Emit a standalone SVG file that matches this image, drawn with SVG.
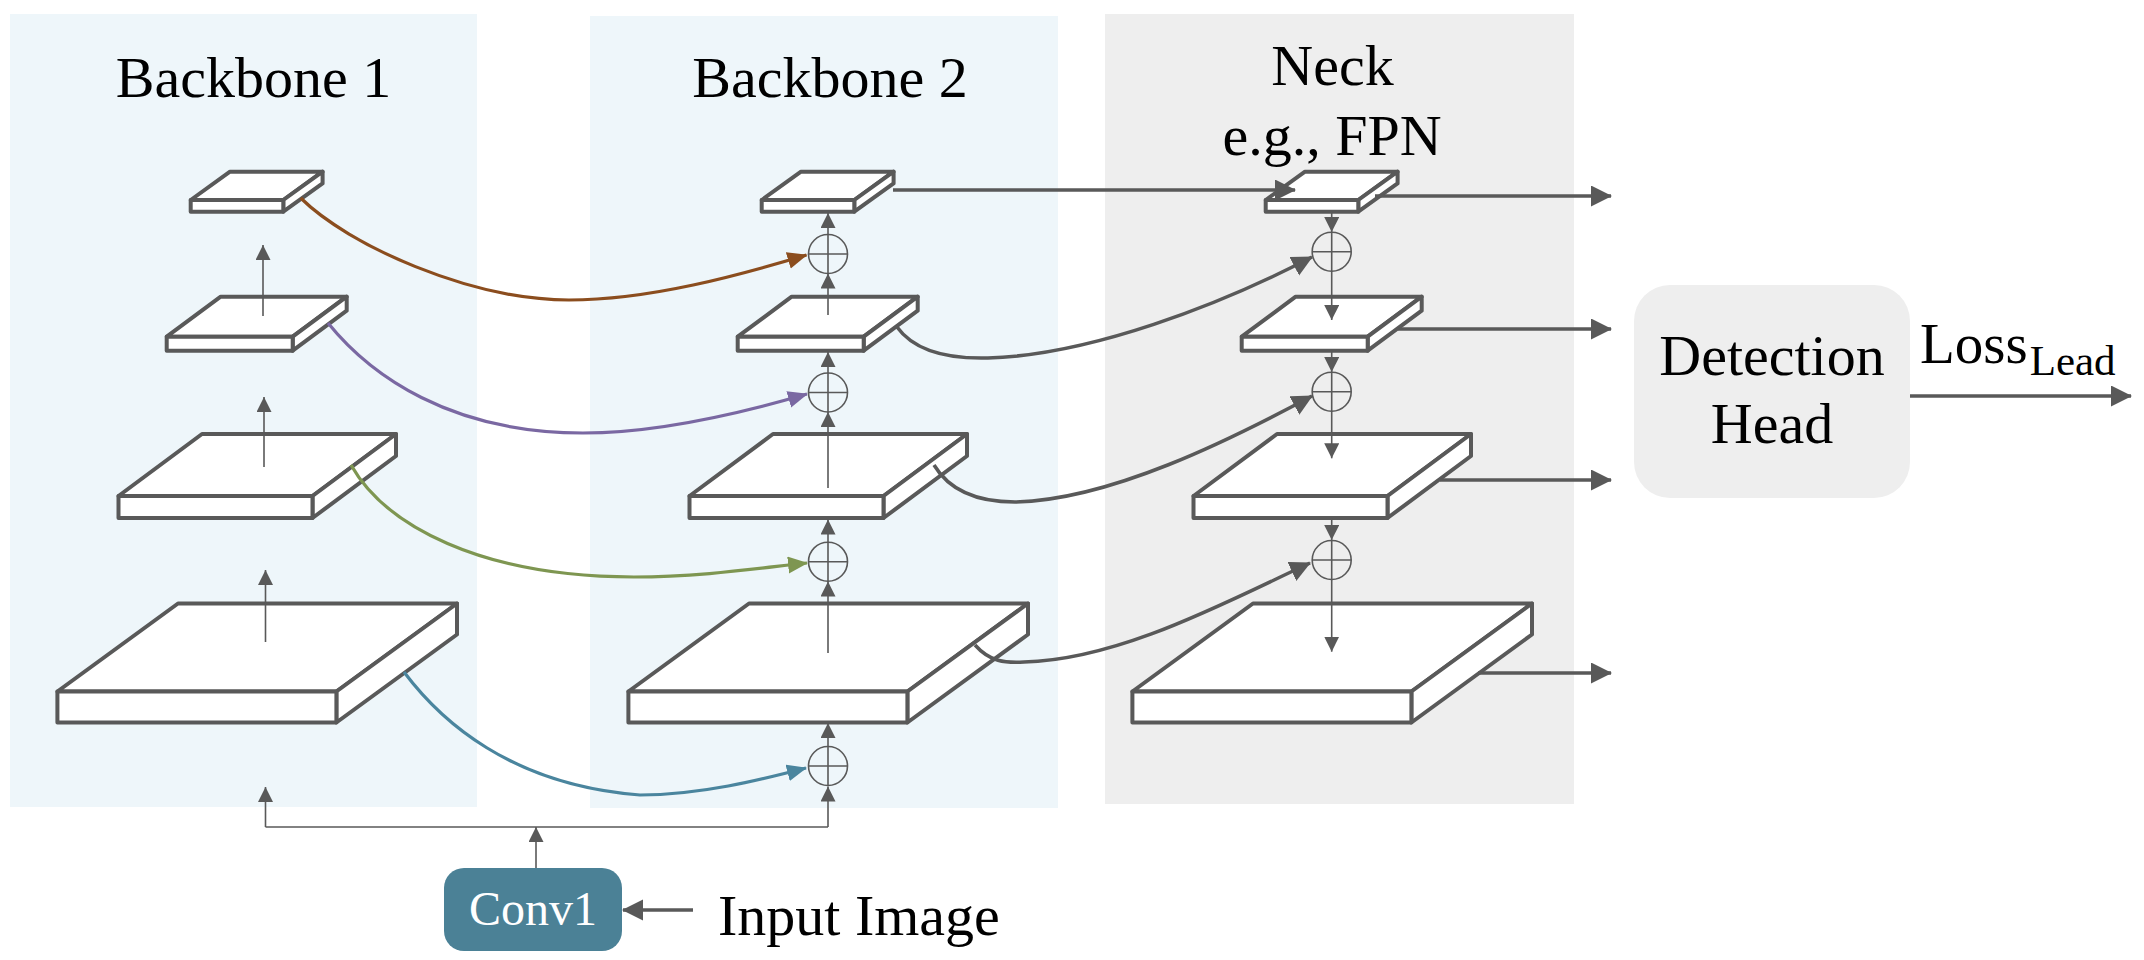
<svg xmlns="http://www.w3.org/2000/svg" width="2144" height="960" viewBox="0 0 2144 960">
<style>
.t{font-family:"Liberation Serif","Times New Roman",serif;fill:#000}
.face{fill:#fff;stroke:#595959;stroke-width:4;stroke-linejoin:round}
.thin{fill:none;stroke:#595959;stroke-width:1.6}
.thick{fill:none;stroke:#595959;stroke-width:3.5}
.sum{fill:none;stroke:#595959;stroke-width:1.6}
.cc{fill:none;stroke-width:3.2}
</style>
<defs>
<marker id="mThin" markerUnits="userSpaceOnUse" markerWidth="16" markerHeight="16" refX="15" refY="7.5" orient="auto"><path d="M0,0 L15,7.5 L0,15 Z" fill="#595959"/></marker>
<marker id="mBig" markerUnits="userSpaceOnUse" markerWidth="22" markerHeight="22" refX="20" refY="10.5" orient="auto"><path d="M0,0 L21,10.5 L0,21 Z" fill="#595959"/></marker>
<marker id="mBrown" markerUnits="userSpaceOnUse" markerWidth="21" markerHeight="18" refX="19" refY="8.5" orient="auto"><path d="M0,0 L20,8.5 L0,17 Z" fill="#8B4D1E"/></marker>
<marker id="mPurple" markerUnits="userSpaceOnUse" markerWidth="21" markerHeight="18" refX="19" refY="8.5" orient="auto"><path d="M0,0 L20,8.5 L0,17 Z" fill="#7A68A2"/></marker>
<marker id="mGreen" markerUnits="userSpaceOnUse" markerWidth="21" markerHeight="18" refX="19" refY="8.5" orient="auto"><path d="M0,0 L20,8.5 L0,17 Z" fill="#7E9651"/></marker>
<marker id="mTeal" markerUnits="userSpaceOnUse" markerWidth="21" markerHeight="18" refX="19" refY="8.5" orient="auto"><path d="M0,0 L20,8.5 L0,17 Z" fill="#4A859E"/></marker>
<g id="slab4">
<polygon class="face" points="190.7,200 230,171.7 322.6,171.7 283.3,200"/>
<polygon class="face" points="283.3,200 322.6,171.7 322.6,183.4 283.3,211.7"/>
<rect class="face" x="190.7" y="200" width="92.6" height="11.7"/>
</g>
<g id="slab3">
<polygon class="face" points="166.7,336.7 220.7,296.7 346.7,296.7 292.7,336.7"/>
<polygon class="face" points="292.7,336.7 346.7,296.7 346.7,310.7 292.7,350.7"/>
<rect class="face" x="166.7" y="336.7" width="126" height="14"/>
</g>
<g id="slab2">
<polygon class="face" points="118.5,496 202,434 396,434 312.5,496"/>
<polygon class="face" points="312.5,496 396,434 396,456 312.5,518"/>
<rect class="face" x="118.5" y="496" width="194" height="22"/>
</g>
<g id="slab1">
<polygon class="face" points="57.4,691.5 178,603.5 457,603.5 336.4,691.5"/>
<polygon class="face" points="336.4,691.5 457,603.5 457,634.5 336.4,722.5"/>
<rect class="face" x="57.4" y="691.5" width="279" height="31"/>
</g>
<g id="plus">
<circle class="sum" cx="0" cy="0" r="19.5"/>
<path class="sum" d="M-19.5,0 H19.5 M0,-19.5 V19.5"/>
</g>
</defs>

<g id="panels">
<rect id="panel-backbone1" x="10" y="14" width="467" height="793" fill="#EEF6FA"/>
<rect id="panel-backbone2" x="590" y="16" width="468" height="792" fill="#EEF6FA"/>
<rect id="panel-neck" x="1105" y="14" width="469" height="790" fill="#EEEEEE"/>
</g>

<g id="titles">
<text class="t" x="253.5" y="97" font-size="58" text-anchor="middle">Backbone 1</text>
<text class="t" x="830" y="97" font-size="58" text-anchor="middle">Backbone 2</text>
<text class="t" x="1332.5" y="85" font-size="58" text-anchor="middle">Neck</text>
<text class="t" x="1332" y="155" font-size="58" text-anchor="middle">e.g., FPN</text>
</g>

<g id="backbone1">
<g id="b1-l4"><use href="#slab4"/></g>
<g id="b1-l3"><use href="#slab3"/></g>
<g id="b1-l2"><use href="#slab2"/></g>
<g id="b1-l1"><use href="#slab1"/></g>
</g>

<g id="backbone2">
<g id="b2-l4"><use href="#slab4" x="571"/></g>
<g id="b2-l3"><use href="#slab3" x="571"/></g>
<g id="b2-l2"><use href="#slab2" x="571"/></g>
<g id="b2-l1"><use href="#slab1" x="571"/></g>
<g id="b2-sum4"><use href="#plus" x="828" y="254"/></g>
<g id="b2-sum3"><use href="#plus" x="828" y="392.5"/></g>
<g id="b2-sum2"><use href="#plus" x="828" y="561.7"/></g>
<g id="b2-sum1"><use href="#plus" x="828" y="766"/></g>
</g>

<g id="neck">
<g id="n-l4"><use href="#slab4" x="1075"/></g>
<g id="n-l3"><use href="#slab3" x="1075"/></g>
<g id="n-l2"><use href="#slab2" x="1075"/></g>
<g id="n-l1"><use href="#slab1" x="1075"/></g>
<g id="n-sum3"><use href="#plus" x="1331.7" y="251.7"/></g>
<g id="n-sum2"><use href="#plus" x="1331.7" y="391.7"/></g>
<g id="n-sum1"><use href="#plus" x="1331.7" y="560"/></g>
</g>

<g id="conv1">
<rect x="444" y="868" width="178" height="83" rx="20" fill="#4B8196"/>
<text class="t" x="533" y="925" font-size="48" text-anchor="middle" style="fill:#fff">Conv1</text>
</g>

<g id="input-image">
<text class="t" x="718" y="935" font-size="58">Input Image</text>
</g>

<g id="detection-head">
<rect x="1634" y="285" width="276" height="213" rx="36" fill="#EEEEEE"/>
<text class="t" x="1772" y="375" font-size="58" text-anchor="middle">Detection</text>
<text class="t" x="1772" y="443" font-size="58" text-anchor="middle">Head</text>
</g>

<g id="loss">
<text class="t" x="1920" y="363" font-size="57">Loss<tspan dx="2" y="375" font-size="43">Lead</tspan></text>
</g>

<g id="connectors">
<path class="thin" d="M263,316 V245" marker-end="url(#mThin)"/>
<path class="thin" d="M264,467 V397" marker-end="url(#mThin)"/>
<path class="thin" d="M265.5,642 V570" marker-end="url(#mThin)"/>
<path class="thin" d="M536,868 V827" marker-end="url(#mThin)"/>
<path class="thin" d="M265.5,827 H828"/>
<path class="thin" d="M265.5,827 V787" marker-end="url(#mThin)"/>
<path class="thin" d="M828,827 V786.5" marker-end="url(#mThin)"/>
<path class="thin" d="M828,746.5 V723" marker-end="url(#mThin)"/>
<path class="thin" d="M828,653 V581.5" marker-end="url(#mThin)"/>
<path class="thin" d="M828,542.2 V519.5" marker-end="url(#mThin)"/>
<path class="thin" d="M828,488 V412" marker-end="url(#mThin)"/>
<path class="thin" d="M828,373 V352" marker-end="url(#mThin)"/>
<path class="thin" d="M828,315 V273.5" marker-end="url(#mThin)"/>
<path class="thin" d="M828,234.5 V213" marker-end="url(#mThin)"/>
<path class="thin" d="M1331.7,211.7 V232" marker-end="url(#mThin)"/>
<path class="thin" d="M1331.7,271.2 V320" marker-end="url(#mThin)"/>
<path class="thin" d="M1331.7,350.7 V372" marker-end="url(#mThin)"/>
<path class="thin" d="M1331.7,411.2 V458.3" marker-end="url(#mThin)"/>
<path class="thin" d="M1331.7,518 V540" marker-end="url(#mThin)"/>
<path class="thin" d="M1331.7,579.5 V651.7" marker-end="url(#mThin)"/>
<path class="cc" stroke="#8B4D1E" d="M300.7,198 C348,245 470,300 569,300 C650,300 740,275 806.5,255" marker-end="url(#mBrown)"/>
<path class="cc" stroke="#7A68A2" d="M328,323 C370,375 450,433 583,433 C660,433 745,412 807,394" marker-end="url(#mPurple)"/>
<path class="cc" stroke="#7E9651" d="M351,465 C385,525 480,577 634,577 C700,577 760,568 807,563" marker-end="url(#mGreen)"/>
<path class="cc" stroke="#4A859E" d="M404,672 C440,720 510,785 640,795 C700,795 760,780 806,768" marker-end="url(#mTeal)"/>
<path class="thick" d="M893,190 H1295" marker-end="url(#mBig)"/>
<path class="thick" d="M897,327 C915,352 950,359 988,358 C1090,355 1220,305 1312,257" marker-end="url(#mBig)"/>
<path class="thick" d="M934,465 C952,495 985,502 1015,502 C1110,500 1230,440 1312,396" marker-end="url(#mBig)"/>
<path class="thick" d="M975,645 C990,662 1005,663 1024,662 C1120,660 1230,600 1310,563" marker-end="url(#mBig)"/>
<path class="thick" d="M1375,196 H1611" marker-end="url(#mBig)"/>
<path class="thick" d="M1398,329 H1611" marker-end="url(#mBig)"/>
<path class="thick" d="M1440,480 H1611" marker-end="url(#mBig)"/>
<path class="thick" d="M1478,673 H1611" marker-end="url(#mBig)"/>
<path class="thick" d="M1910,396 H2131" marker-end="url(#mBig)"/>
<path class="thick" d="M693,910 H623" marker-end="url(#mBig)"/>
</g>
</svg>
